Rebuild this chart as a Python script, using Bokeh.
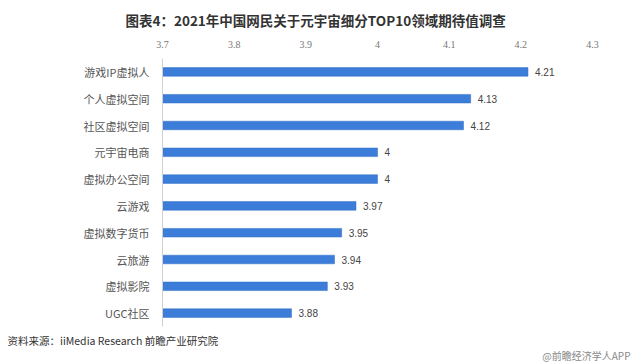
from bokeh.plotting import figure
from bokeh.models import ColumnDataSource, Title, Range1d, FactorRange, FixedTicker
from bokeh.core.properties import value
from bokeh.embed import file_html
from bokeh.resources import INLINE

categories = ["游戏IP虚拟人", "个人虚拟空间", "社区虚拟空间", "元宇宙电商", "虚拟办公空间",
              "云游戏", "虚拟数字货币", "云旅游", "虚拟影院", "UGC社区"]
scores = [4.21, 4.13, 4.12, 4.00, 4.00, 3.97, 3.95, 3.94, 3.93, 3.88]
score_labels = ["4.21", "4.13", "4.12", "4", "4", "3.97", "3.95", "3.94", "3.93", "3.88"]
x_ticks = [3.7, 3.8, 3.9, 4.0, 4.1, 4.2, 4.3]
x_min, x_max = 3.7, 4.3

title_text = "图表4：2021年中国网民关于元宇宙细分TOP10领域期待值调查"
source_text = "资料来源：iiMedia Research 前瞻产业研究院"
mark_text = "@前瞻经济学人APP"

src = ColumnDataSource(dict(cat=categories, val=scores, lab=score_labels,
                            base=[x_min] * len(scores)))

W, H = 632, 364
BL, BR, BT, BB = 162, 40, 57, 38
p = figure(width=W, height=H, output_backend="svg", toolbar_location=None,
           y_range=FactorRange(*reversed(categories)),
           x_range=Range1d(x_min, x_max),
           x_axis_location="above",
           min_border_left=BL, min_border_right=BR,
           min_border_top=BT, min_border_bottom=BB)
p.outline_line_color = None
p.background_fill_color = "white"
p.border_fill_color = "white"
p.xgrid.grid_line_color = None
p.ygrid.grid_line_color = None

p.hbar(y="cat", left="base", right="val", height=0.32, source=src,
       fill_color="#3B7DD8", line_color="#2F6CC4", line_width=0.5)
p.text(x="val", y="cat", text="lab", source=src, x_offset=7,
       text_baseline="middle", text_align="left", text_font_size="10px",
       text_color="#444444", text_font=value("Liberation Sans"))

xa = p.xaxis[0]
xa.ticker = FixedTicker(ticks=x_ticks)
xa.axis_line_color = None
xa.major_tick_line_color = None
xa.minor_tick_line_color = None
xa.major_label_standoff = 5
xa.major_label_text_font = "Liberation Serif"
xa.major_label_text_font_size = "10px"
xa.major_label_text_color = "#777777"

ya = p.yaxis[0]
ya.axis_line_color = "#d0d0d0"
ya.major_tick_line_color = None
ya.minor_tick_line_color = None
ya.major_label_standoff = 7
ya.major_label_text_font = "Noto Sans CJK SC"
ya.major_label_text_font_size = "11px"
ya.major_label_text_color = "#555555"

p.add_layout(Title(text=title_text, align="left", offset=-37, text_font="Noto Sans CJK SC",
                   text_font_size="13.5px", text_font_style="bold", text_color="#333333",
                   standoff=15), "above")
p.add_layout(Title(text=source_text, align="left", offset=-155, text_font="Noto Sans CJK SC",
                   text_font_size="10.5px", text_font_style="normal", text_color="#333333",
                   standoff=8), "below")
p.add_layout(Title(text=mark_text, align="right", offset=-38, text_font="Noto Sans CJK SC",
                   text_font_size="10px", text_font_style="normal", text_color="#888888",
                   standoff=-11), "below")

open("out.html", "w").write(file_html(p, INLINE))
